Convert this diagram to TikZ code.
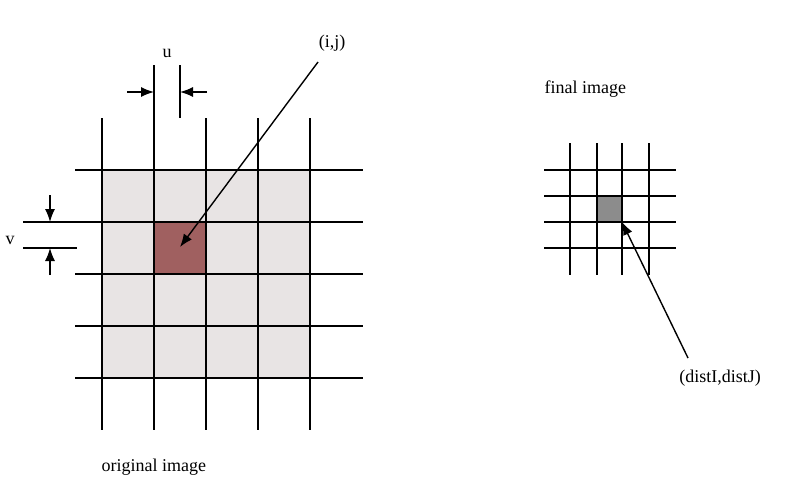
\documentclass[tikz,border=0pt]{standalone}
\usepackage{fontspec}
\setmainfont{Liberation Serif}
\usetikzlibrary{arrows.meta}
\begin{document}
\begin{tikzpicture}[x=1pt,y=-1pt,
  gl/.style={line width=1.5pt},
  arr/.style={line width=1.4pt,-{Latex[length=13pt,width=10pt]}},
  lbl/.style={font=\fontsize{18}{20}\selectfont}]
\useasboundingbox (0,0) rectangle (800,482);
\fill[fill={rgb,255:red,232;green,228;blue,228}] (102,170) rectangle (310,378);
\fill[fill={rgb,255:red,160;green,96;blue,96}] (154,222) rectangle (206,274);
\foreach \x in {102,206,258,310} \draw[gl] (\x,118) -- (\x,430);
\draw[gl] (154,65) -- (154,430);
\draw[gl] (180,65) -- (180,118);
\foreach \y in {170,274,326,378} \draw[gl] (75,\y) -- (363,\y);
\draw[gl] (23,222) -- (363,222);
\draw[gl] (23,248) -- (77,248);
\coordinate (ua) at (127,92); \coordinate (ub) at (154,92);
\coordinate (uc) at (207,92); \coordinate (ud) at (180,92);
\draw[arr] (ua) -- (ub); \draw[arr] (uc) -- (ud);
\coordinate (va) at (50,195); \coordinate (vb) at (50,222);
\coordinate (vc) at (50,275); \coordinate (vd) at (50,248);
\draw[arr] (va) -- (vb); \draw[arr] (vc) -- (vd);
\node[lbl] (u) at (167,53) {u};
\node[lbl] (v) at (10,240) {v};
\node[lbl] (ij) at (332,43) {(i,j)};
\coordinate (ijs) at (318,62);
\coordinate (ijend) at (180,247);
\draw[arr] (ijs) -- (ijend);
\node[lbl,anchor=west] (orig) at (98,467) {original image};
% right
\fill[fill={rgb,255:red,140;green,140;blue,140}] (597,196) rectangle (622,222);
\foreach \x in {570,597,622,649} \draw[gl] (\x,143) -- (\x,275);
\foreach \y in {170,196,222,248} \draw[gl] (544,\y) -- (676,\y);
\node[lbl,anchor=west] (fin) at (541,89) {final image};
\node[lbl] (dd) at (720,378) {(distI,distJ)};
\coordinate (dds) at (688,358);
\coordinate (ddend) at (622,222);
\draw[arr] (dds) -- (ddend);
\end{tikzpicture}
\end{document}
